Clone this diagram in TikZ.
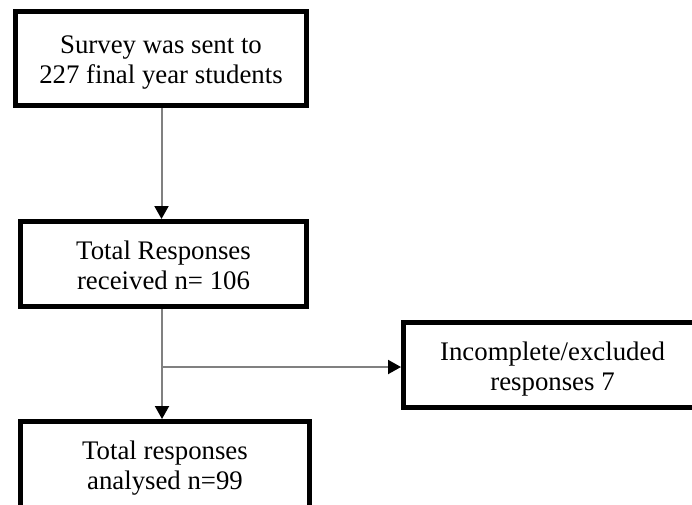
\documentclass[tikz,border=0pt]{standalone}
\usepackage{fontspec}
\setmainfont{Liberation Serif}
\usetikzlibrary{arrows.meta}
\begin{document}
\begin{tikzpicture}[x=1pt,y=-1pt,
  box/.style={draw=black, line width=5pt, fill=white, inner sep=0pt, align=center,
    font=\fontsize{26.8pt}{30pt}\selectfont, text height=50pt, text depth=0pt},
  conn/.style={draw=black!50, line width=2pt,
    -{Triangle[length=13pt,width=14pt,color=black]}}]
\useasboundingbox[fill=white] (0,0) rectangle (692,504);
\clip (0,0) rectangle (692,504);
\node[box, minimum width=291pt, minimum height=94pt] (survey) at (161,58.5)
  {Survey was sent to\\227 final year students};
\node[box, minimum width=286pt, minimum height=85pt] (total) at (163.5,264)
  {Total Responses\\received n= 106};
\node[box, minimum width=298pt, minimum height=85pt] (excl) at (552.5,365)
  {Incomplete/excluded\\responses 7};
\node[box, minimum width=289pt, minimum height=86pt] (anal) at (165,464.5)
  {Total responses\\analysed n=99};
\coordinate (jn) at (162,367);
\draw[conn] (survey.south -| 161.5,0) -- (161.5,0 |- total.north);
\draw[conn] (jn |- total.south) -- (jn |- anal.north);
\draw[conn] (jn) -- (jn -| excl.west);
\end{tikzpicture}
\end{document}
